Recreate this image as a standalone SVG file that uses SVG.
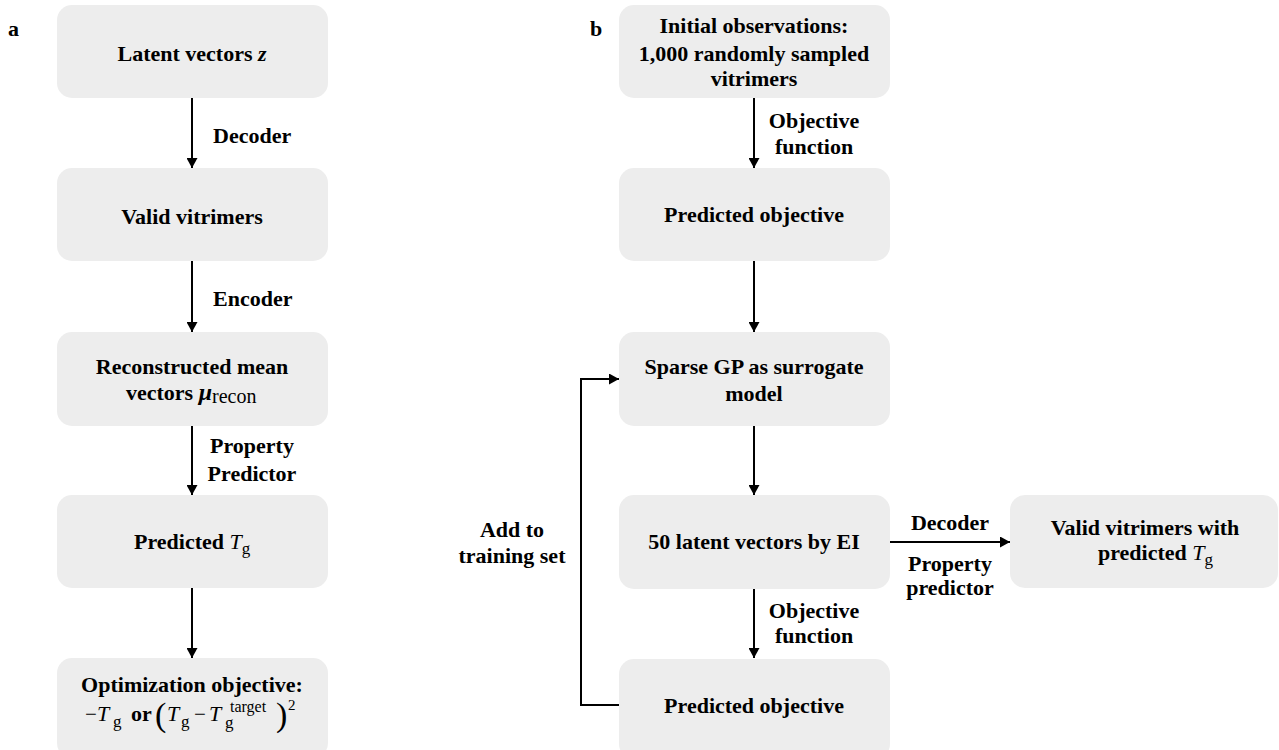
<svg xmlns="http://www.w3.org/2000/svg" width="1279" height="750" viewBox="0 0 1279 750">
<defs>
<marker id="ah" viewBox="0 0 10 11" refX="10" refY="5.5" markerWidth="10" markerHeight="11" markerUnits="userSpaceOnUse" orient="auto">
<path d="M0,0 L10,5.5 L0,11 Z" fill="#000"/>
</marker>
<style>
.box{fill:#ededed;}
.t{font-family:"Liberation Serif","Times New Roman",serif;font-weight:bold;font-size:22px;fill:#000;}
.c{text-anchor:middle;}
.m{font-family:"Liberation Serif","Times New Roman",serif;font-weight:normal;fill:#000;}
.mi{font-style:italic;}
.ln{stroke:#000;stroke-width:2;fill:none;}
.arr{marker-end:url(#ah);}
</style>
</defs>
<rect width="1279" height="750" fill="#fff"/>

<text class="t" x="8" y="36">a</text>
<text class="t" x="590" y="36">b</text>

<g id="connectors">
<line class="ln arr" x1="192" y1="98" x2="192" y2="168"/>
<line class="ln arr" x1="192" y1="261" x2="192" y2="332"/>
<line class="ln arr" x1="192" y1="426" x2="192" y2="495"/>
<line class="ln arr" x1="192" y1="588" x2="192" y2="658"/>
<line class="ln arr" x1="754" y1="98" x2="754" y2="168"/>
<line class="ln arr" x1="754" y1="261" x2="754" y2="332"/>
<line class="ln arr" x1="754" y1="426" x2="754" y2="495"/>
<line class="ln arr" x1="754" y1="589" x2="754" y2="658"/>
<line class="ln arr" x1="890" y1="542" x2="1010" y2="542"/>
<polyline class="ln arr" points="619,705 581,705 581,379 619,379"/>
<text class="t" x="213" y="143">Decoder</text>
<text class="t" x="213" y="306">Encoder</text>
<text class="t c" x="252" y="453">Property</text>
<text class="t c" x="252" y="481">Predictor</text>
<text class="t c" x="814" y="128">Objective</text>
<text class="t c" x="814" y="154">function</text>
<text class="t c" x="814" y="618">Objective</text>
<text class="t c" x="814" y="643">function</text>
<text class="t c" x="950" y="530">Decoder</text>
<text class="t c" x="950" y="571">Property</text>
<text class="t c" x="950" y="595">predictor</text>
<text class="t c" x="512" y="537">Add to</text>
<text class="t c" x="512" y="563">training set</text>
</g>

<g id="a1">
<rect class="box" x="57" y="5" width="271" height="93" rx="15"/>
<text class="t c" x="192" y="61">Latent vectors <tspan font-style="italic">z</tspan></text>
</g>
<g id="a2">
<rect class="box" x="57" y="168" width="271" height="93" rx="15"/>
<text class="t c" x="192" y="224">Valid vitrimers</text>
</g>
<g id="a3">
<rect class="box" x="57" y="332" width="271" height="94" rx="15"/>
<text class="t c" x="192" y="374">Reconstructed mean</text>
<text class="t" x="126" y="400">vectors <tspan font-style="italic" font-size="24">μ</tspan><tspan class="m" font-size="20" dy="3">recon</tspan></text>
</g>
<g id="a4">
<rect class="box" x="57" y="495" width="271" height="93" rx="15"/>
<text class="t" x="134" y="549">Predicted <tspan class="m mi" font-size="22">T</tspan><tspan class="m" font-size="17" dy="5">g</tspan></text>
</g>
<g id="a5">
<rect class="box" x="57" y="658" width="271" height="100" rx="15"/>
<text class="t c" x="192" y="692">Optimization objective:</text>
<text class="m" x="85" y="721" font-size="21">−</text>
<text class="m mi" x="97" y="721" font-size="22">T</text>
<text class="m" x="113" y="727" font-size="17">g</text>
<text class="t" x="131" y="721">or</text>
<text class="m" x="155" y="726" font-size="34" font-weight="300">(</text>
<text class="m mi" x="167" y="721" font-size="22">T</text>
<text class="m" x="181" y="727" font-size="17">g</text>
<text class="m" x="194" y="721" font-size="21">−</text>
<text class="m mi" x="209" y="721" font-size="22">T</text>
<text class="m" x="225" y="728" font-size="17">g</text>
<text class="m" x="230" y="712" font-size="16">target</text>
<text class="m" x="276" y="726" font-size="34">)</text>
<text class="m" x="288" y="710" font-size="15">2</text>
</g>

<g id="b1">
<rect class="box" x="619" y="5" width="271" height="93" rx="15"/>
<text class="t c" x="754" y="33">Initial observations:</text>
<text class="t c" x="754" y="61">1,000 randomly sampled</text>
<text class="t c" x="754" y="86">vitrimers</text>
</g>
<g id="b2">
<rect class="box" x="619" y="168" width="271" height="93" rx="15"/>
<text class="t c" x="754" y="222">Predicted objective</text>
</g>
<g id="b3">
<rect class="box" x="619" y="332" width="271" height="94" rx="15"/>
<text class="t c" x="754" y="374">Sparse GP as surrogate</text>
<text class="t c" x="754" y="401">model</text>
</g>
<g id="b4">
<rect class="box" x="619" y="495" width="271" height="94" rx="15"/>
<text class="t c" x="754" y="549">50 latent vectors by EI</text>
</g>
<g id="b5">
<rect class="box" x="619" y="659" width="271" height="100" rx="15"/>
<text class="t c" x="754" y="713">Predicted objective</text>
</g>
<g id="b6">
<rect class="box" x="1010" y="495" width="268" height="93" rx="15"/>
<text class="t c" x="1145" y="535">Valid vitrimers with</text>
<text class="t" x="1098" y="560">predicted <tspan class="m mi" font-size="22">T</tspan><tspan class="m" font-size="17" dy="5">g</tspan></text>
</g>
</svg>
